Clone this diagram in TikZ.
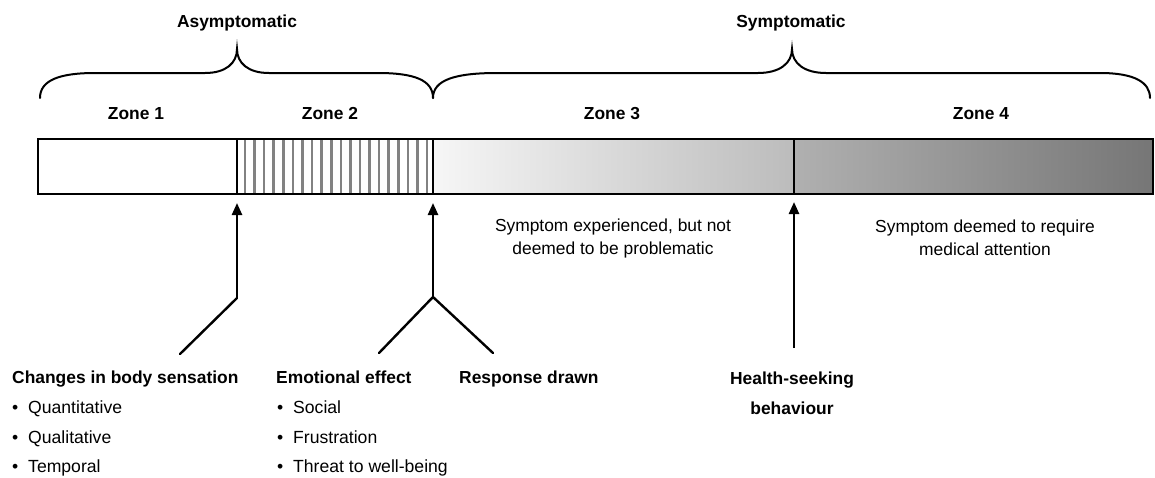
\documentclass[tikz,border=0pt]{standalone}
\usepackage{fontspec}
\setmainfont{Liberation Sans}
\usetikzlibrary{arrows.meta}
\definecolor{zthreeL}{RGB}{246,246,246}
\definecolor{zthreeR}{RGB}{188,188,188}
\definecolor{zfourL}{RGB}{176,176,176}
\definecolor{zfourR}{RGB}{118,118,118}
\definecolor{stripe}{RGB}{130,130,130}
\begin{document}
\begin{tikzpicture}[x=1pt,y=-1pt,
  hdr/.style={font=\fontsize{17.4}{20}\selectfont\bfseries, inner sep=0pt, text height=12.5pt, text depth=0pt},
  desc/.style={font=\fontsize{17.4}{23}\selectfont, align=center, inner sep=0pt},
  item/.style={font=\fontsize{17.6}{20}\selectfont, inner sep=0pt, text height=12.6pt, text depth=0pt, anchor=west},
  arrowln/.style={line width=2.4pt, -{Triangle[width=10pt,length=12pt]}},
  plainln/.style={line width=2.4pt, line cap=round},
  bracecurve/.style={line width=2pt, line cap=round},
  barframe/.style={line width=2.6pt}
]
\useasboundingbox (0,0) rectangle (1155,477);

% braces
\draw[bracecurve] (40,98) .. controls (40,80) and (60,73) .. (95,73) -- (205,73)
  .. controls (226,73) and (237,63) .. (237,49)
  .. controls (237,63) and (248,73) .. (269,73) -- (378,73)
  .. controls (414,73) and (433,80) .. (433,98);
\draw[bracecurve] (433,98) .. controls (433,80) and (455,73) .. (497,73) -- (758,73)
  .. controls (780,73) and (792,63) .. (792,49)
  .. controls (792,63) and (804,73) .. (826,73) -- (1100,73)
  .. controls (1134,73) and (1150,82) .. (1150,98);

\node[hdr] (asym) at (237,21) {Asymptomatic};
\node[hdr] (sym) at (791,21) {Symptomatic};

\node[hdr] (z1) at (136,113) {Zone 1};
\node[hdr] (z2) at (330,113) {Zone 2};
\node[hdr] (z3) at (612,113) {Zone 3};
\node[hdr] (z4) at (981,113) {Zone 4};

% bar
\shade[left color=zthreeL, right color=zthreeR] (433,139) rectangle (794,194);
\shade[left color=zfourL, right color=zfourR] (794,139) rectangle (1153,194);
\foreach \k in {0,...,19}
  \draw[stripe, line width=2.6pt] ({245+9.58*\k},139) -- ({245+9.58*\k},194);
\draw[barframe] (38,139) rectangle (1153,194);
\draw[line width=2.2pt] (237,139) -- (237,194);
\draw[line width=2.2pt] (433,139) -- (433,194);
\draw[line width=2.2pt] (794,139) -- (794,194);

\coordinate (t1) at (237,203);
\coordinate (t2) at (433,203);
\coordinate (t3) at (794,202);
\coordinate (j1) at (237,298);
\coordinate (j2) at (433,297);
\coordinate (b1) at (180,354);
\coordinate (b2) at (379,353);
\coordinate (b3) at (493,353);
\coordinate (b4) at (794,348);

\node[desc] (d3) at (613,238) {Symptom experienced, but not\\deemed to be problematic};
\node[desc] (d4) at (985,238) {Symptom deemed to require\\medical attention};

% arrows
\draw[plainln] (b1) -- (j1);
\draw[arrowln] (j1) -- (t1);
\draw[plainln] (b2) -- (j2) -- (b3);
\draw[arrowln] (j2) -- (t2);
\draw[arrowln] (b4) -- (t3);

% bottom labels
\node[hdr, anchor=west] (chg) at (12,377) {Changes in body sensation};
\node[item] (c1) at (12,407) {\makebox[16pt][l]{•}Quantitative};
\node[item] (c2) at (12,437) {\makebox[16pt][l]{•}Qualitative};
\node[item] (c3) at (12,466) {\makebox[16pt][l]{•}Temporal};
\node[hdr, anchor=west] (emo) at (276,377) {Emotional effect};
\node[item] (e1) at (277,407) {\makebox[16pt][l]{•}Social};
\node[item] (e2) at (277,437) {\makebox[16pt][l]{•}Frustration};
\node[item] (e3) at (277,466) {\makebox[16pt][l]{•}Threat to well-being};
\node[hdr, anchor=west] (resp) at (459,377) {Response drawn};
\node[hdr] (hsb1) at (792,378) {Health-seeking};
\node[hdr] (hsb2) at (792,408) {behaviour};
\end{tikzpicture}
\end{document}
